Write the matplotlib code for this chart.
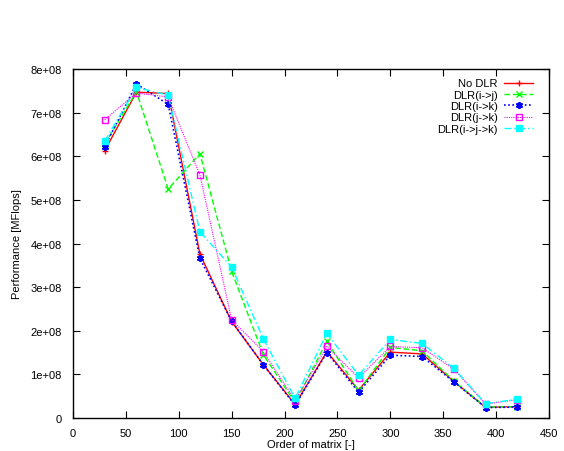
import matplotlib
matplotlib.use('Agg')
import matplotlib.pyplot as plt

# matrix order
order = [30, 60, 90, 120, 150, 180, 210, 240, 270, 300, 330, 360, 390, 420]

# performance values (flops)
no_dlr = [6.13e8, 7.47e8, 7.44e8, 3.76e8, 2.21e8, 1.22e8, 0.31e8, 1.52e8, 0.64e8, 1.51e8, 1.47e8, 0.84e8, 0.245e8, 0.26e8]
dlr_ij = [6.28e8, 7.48e8, 5.25e8, 6.06e8, 3.36e8, 1.45e8, 0.35e8, 1.76e8, 0.62e8, 1.62e8, 1.54e8, 0.85e8, 0.25e8, 0.26e8]
dlr_ik = [6.22e8, 7.66e8, 7.19e8, 3.66e8, 2.22e8, 1.22e8, 0.29e8, 1.50e8, 0.59e8, 1.44e8, 1.41e8, 0.83e8, 0.24e8, 0.25e8]
dlr_jk = [6.84e8, 7.45e8, 7.36e8, 5.57e8, 2.25e8, 1.52e8, 0.40e8, 1.64e8, 0.92e8, 1.64e8, 1.61e8, 1.12e8, 0.32e8, 0.42e8]
dlr_ijk = [6.35e8, 7.58e8, 7.40e8, 4.27e8, 3.46e8, 1.81e8, 0.45e8, 1.94e8, 0.98e8, 1.80e8, 1.71e8, 1.14e8, 0.33e8, 0.43e8]

plt.rcParams['font.family'] = ['Liberation Sans', 'DejaVu Sans']
plt.rcParams['font.size'] = 8

fig = plt.figure(figsize=(5.64, 4.52), dpi=100)
ax = fig.add_axes([0.1294, 0.073, 0.844, 0.772])

ax.plot(order, no_dlr, color='#ff0000', linestyle='-', linewidth=1,
        marker='+', markersize=5, label='No DLR')
ax.plot(order, dlr_ij, color='#00ff00', linestyle=(0, (4, 2)), linewidth=1,
        marker='x', markersize=4, label='DLR(i->j)')
ax.plot(order, dlr_ik, color='#0000ff', linestyle=(0, (1, 1.5)), linewidth=1.2,
        marker=(6, 2, 0), markersize=5, markeredgewidth=1.3, label='DLR(i->k)')
ax.plot(order, dlr_jk, color='#ff00ff', linestyle=(0, (1, 1)), linewidth=0.8,
        marker='s', markersize=5, markerfacecolor='none', label='DLR(j->k)')
ax.plot(order, dlr_ijk, color='#00ffff', linestyle=(0, (5, 2, 1, 2)), linewidth=1,
        marker='s', markersize=4.5, label='DLR(i->j->k)')

ax.set_xlim(0, 450)
ax.set_ylim(0, 8e8)
ax.set_xticks(range(0, 451, 50))
ax.set_yticks([i * 1e8 for i in range(9)])
ax.set_yticklabels(['0'] + ['%de+08' % i for i in range(1, 9)])
ax.tick_params(direction='in', top=True, right=True, length=5, width=0.8)
ax.tick_params(axis='x', pad=7)
ax.tick_params(axis='y', pad=8)
for s in ax.spines.values():
    s.set_linewidth(1)

ax.set_xlabel('Order of matrix [-]', labelpad=1)
ax.set_ylabel('Performance [MFlops]', labelpad=6)

ax.legend(loc='upper right', bbox_to_anchor=(0.99, 1.005), frameon=False,
          markerfirst=False, handlelength=2.6, handletextpad=0.6,
          labelspacing=0.12, borderaxespad=0.6, fontsize=8, alignment='right')

fig.savefig('out.png', dpi=100)
